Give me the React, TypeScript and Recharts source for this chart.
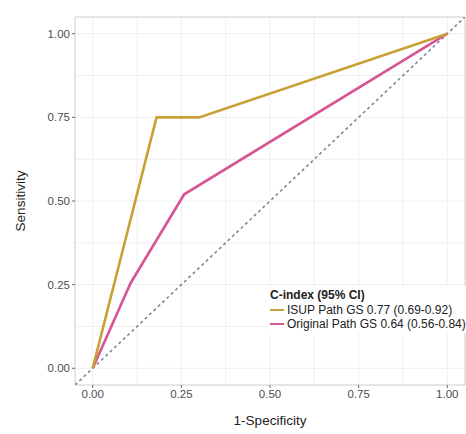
import { LineChart, Line, XAxis, YAxis, CartesianGrid, ReferenceArea } from 'recharts';

const isupFpr = [0, 0.18, 0.3, 1];
const isupTpr = [0, 0.75, 0.75, 1];
const origFpr = [0, 0.107, 0.258, 1];
const origTpr = [0, 0.255, 0.52, 1];
const diagX = [-0.05, 1.05];
const ticks = [0, 0.25, 0.5, 0.75, 1];
const gridValues = [0, 0.125, 0.25, 0.375, 0.5, 0.625, 0.75, 0.875, 1];

const legendTitle = 'C-index (95% CI)';
const seriesNames = ['ISUP Path GS 0.77 (0.69-0.92)', 'Original Path GS 0.64 (0.56-0.84)'];
const GOLD = '#c9a034';
const PINK = '#d65592';

const isupData = isupFpr.map((x, i) => ({ x, y: isupTpr[i] }));
const origData = origFpr.map((x, i) => ({ x, y: origTpr[i] }));
const diagData = diagX.map((x) => ({ x, y: x }));

const font = '"Liberation Sans", Arial, sans-serif';

// legend drawn as an overlay so it doesn't shrink the plot area
const LegendBox = () => (
  <div style={{ position: 'absolute', left: 267, top: 286, background: '#fff', padding: '2px 3px', fontFamily: font, color: '#222', fontSize: 12, lineHeight: '14px', whiteSpace: 'nowrap' }}>
    <div style={{ fontWeight: 'bold', marginBottom: 1 }}>{legendTitle}</div>
    {seriesNames.map((n, i) => (
      <div key={n} style={{ display: 'flex', alignItems: 'center' }}>
        <span style={{ display: 'inline-block', width: 14, height: 2, background: i === 0 ? GOLD : PINK, marginRight: 3 }} />
        <span>{n}</span>
      </div>
    ))}
  </div>
);

export default function App() {
  const tickStyle = { fill: '#4d4d4d', fontSize: 11.5, fontFamily: font };
  return (
    <div style={{ position: 'absolute', left: 0, top: 0, width: 466, height: 434, background: '#fff' }}>
      <LineChart width={466} height={434} margin={{ top: 17, right: 1, bottom: 0, left: 0 }}>
        <CartesianGrid stroke="#efefef" verticalValues={gridValues} horizontalValues={gridValues} />
        <ReferenceArea x1={-0.05} x2={1.05} y1={-0.05} y2={1.05} fill="none" stroke="#cccccc" strokeWidth={1} />
        <XAxis
          type="number"
          dataKey="x"
          domain={[-0.05, 1.05]}
          ticks={ticks}
          tickFormatter={(v) => v.toFixed(2)}
          allowDataOverflow
          height={49}
          axisLine={false}
          tickSize={3}
          tickLine={{ stroke: '#666' }}
          tick={tickStyle}
          label={{ value: '1-Specificity', position: 'insideBottom', offset: 9, style: { fill: '#222', fontSize: 13.5, fontFamily: font } }}
        />
        <YAxis
          type="number"
          dataKey="y"
          domain={[-0.05, 1.05]}
          ticks={ticks}
          tickFormatter={(v) => v.toFixed(2)}
          allowDataOverflow
          width={75}
          axisLine={false}
          tickSize={3}
          tickLine={{ stroke: '#666' }}
          tick={tickStyle}
          label={{ value: 'Sensitivity', angle: -90, position: 'insideLeft', offset: 20, style: { textAnchor: 'middle', fill: '#222', fontSize: 13.5, fontFamily: font } }}
        />
        <Line data={diagData} dataKey="y" stroke="#7d8894" strokeWidth={1.6} strokeDasharray="3 3" dot={false} isAnimationActive={false} />
        <Line data={origData} dataKey="y" stroke={PINK} strokeWidth={2.6} dot={false} isAnimationActive={false} />
        <Line data={isupData} dataKey="y" stroke={GOLD} strokeWidth={2.6} dot={false} isAnimationActive={false} />
      </LineChart>
      <LegendBox />
    </div>
  );
}
